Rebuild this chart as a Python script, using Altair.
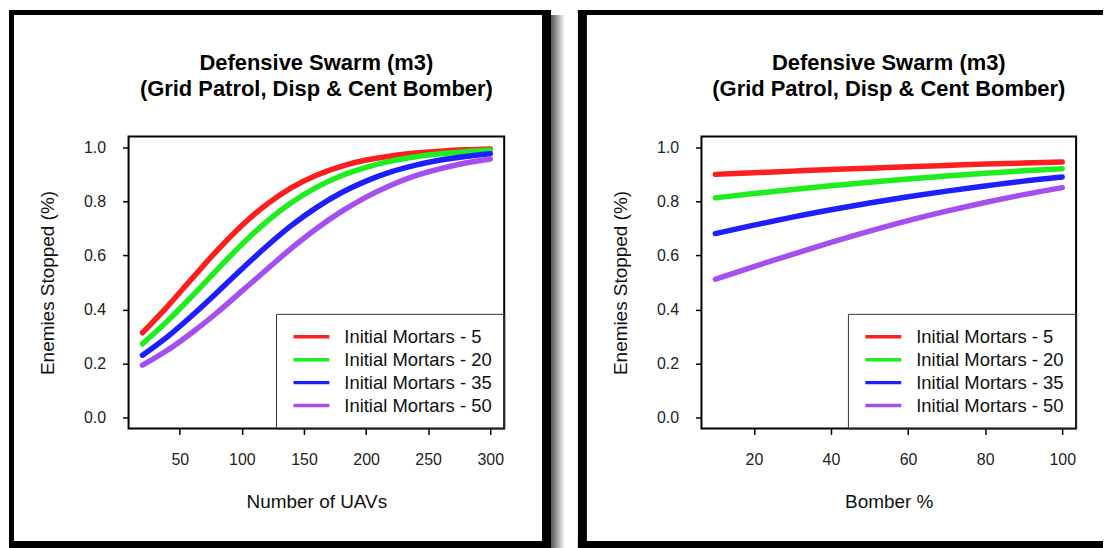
import altair as alt
import pandas as pd

FONT = "Liberation Sans"

series_names = ["Initial Mortars - 5", "Initial Mortars - 20",
                "Initial Mortars - 35", "Initial Mortars - 50"]
series_colors = ["#ff1e1e", "#1eee1e", "#1e1eff", "#a64ff0"]

# Left panel: Number of UAVs
uav_x = [20, 40, 60, 80, 100, 120, 140, 160, 180, 200, 220, 240, 260, 280, 300]
uav_m5 = [0.314, 0.411, 0.515, 0.618, 0.711, 0.789, 0.851, 0.897, 0.930, 0.953,
          0.968, 0.979, 0.986, 0.991, 0.994]
uav_m20 = [0.273, 0.357, 0.450, 0.547, 0.641, 0.725, 0.796, 0.852, 0.895, 0.926,
           0.949, 0.965, 0.976, 0.984, 0.989]
uav_m35 = [0.231, 0.299, 0.378, 0.463, 0.550, 0.634, 0.711, 0.777, 0.832, 0.875,
           0.909, 0.934, 0.953, 0.966, 0.976]
uav_m50 = [0.194, 0.249, 0.315, 0.388, 0.468, 0.548, 0.627, 0.699, 0.762, 0.816,
           0.860, 0.895, 0.921, 0.942, 0.957]

# Right panel: Bomber %
bomber_x = [10, 20, 30, 40, 50, 60, 70, 80, 90, 100]
bomber_m5 = [0.900, 0.906, 0.912, 0.918, 0.923, 0.928, 0.933, 0.938, 0.942, 0.946]
bomber_m20 = [0.813, 0.829, 0.844, 0.858, 0.871, 0.883, 0.894, 0.904, 0.913, 0.921]
bomber_m35 = [0.681, 0.712, 0.742, 0.769, 0.794, 0.817, 0.838, 0.857, 0.875, 0.890]
bomber_m50 = [0.512, 0.559, 0.604, 0.648, 0.690, 0.729, 0.764, 0.796, 0.825, 0.851]

y_ticks = [0.0, 0.2, 0.4, 0.6, 0.8, 1.0]
uav_ticks = [50, 100, 150, 200, 250, 300]
bomber_ticks = [20, 40, 60, 80, 100]

title_line1 = "Defensive Swarm (m3)"
title_line2 = "(Grid Patrol, Disp & Cent Bomber)"
y_title = "Enemies Stopped (%)"


def long_df(xs, cols):
    rows = []
    for name, ys in zip(series_names, cols):
        for xv, yv in zip(xs, ys):
            rows.append({"x": xv, "y": yv, "series": name})
    return pd.DataFrame(rows)


uav_df = long_df(uav_x, [uav_m5, uav_m20, uav_m35, uav_m50])
bomber_df = long_df(bomber_x, [bomber_m5, bomber_m20, bomber_m35, bomber_m50])

one = alt.Data(values=[{}])


def rect(x1, x2, y1, y2, fill="black"):
    return alt.Chart(one).mark_rect(fill=fill, strokeWidth=0).encode(
        x=alt.value(x1), x2=alt.value(x2), y=alt.value(y1), y2=alt.value(y2))


def panel(df, xs, x_title, ticks, W, H, frame, shadow, legend_x):
    span = max(xs) - min(xs)
    xdom = [min(xs) - 0.04 * span, max(xs) + 0.04 * span]
    left, right, top, bottom = frame
    layers = [
        rect(left, left + 5, top, bottom),
        rect(left, right, top, top + 5),
        rect(left, right, bottom - 7, bottom),
    ]
    if shadow:
        layers.append(rect(right - 9, right, top, bottom))
        layers.append(
            alt.Chart(one).mark_rect(
                strokeWidth=0,
                fill=alt.LinearGradient(
                    gradient="linear",
                    stops=[alt.GradientStop(color="#555555", offset=0),
                           alt.GradientStop(color="#ffffff", offset=1)],
                    x1=0, x2=1, y1=0, y2=0)
            ).encode(x=alt.value(right), x2=alt.value(right + 14),
                     y=alt.value(top + 5), y2=alt.value(bottom))
        )
    else:
        layers[0] = rect(left, left + 9, top, bottom)
    layers.append(
        alt.Chart(one).mark_text(text=title_line1, font=FONT, fontSize=22,
                                 fontWeight="bold", align="center",
                                 baseline="alphabetic", color="black")
        .encode(x=alt.value(W / 2), y=alt.value(-67)))
    layers.append(
        alt.Chart(one).mark_text(text=title_line2, font=FONT, fontSize=22,
                                 fontWeight="bold", align="center",
                                 baseline="alphabetic", color="black")
        .encode(x=alt.value(W / 2), y=alt.value(-41)))
    lines = alt.Chart(df).mark_line(
        strokeWidth=5.5, strokeCap="round", strokeJoin="round",
        interpolate="monotone"
    ).encode(
        x=alt.X("x:Q", scale=alt.Scale(domain=xdom, nice=False, zero=False),
                axis=alt.Axis(values=ticks, title=x_title)),
        y=alt.Y("y:Q", scale=alt.Scale(domain=[-0.04, 1.04], nice=False, zero=False),
                axis=alt.Axis(values=y_ticks, format=".1f", title=y_title)),
        color=alt.Color(
            "series:N",
            scale=alt.Scale(domain=series_names, range=series_colors),
            sort=series_names,
            legend=alt.Legend(
                title=None, orient="none", legendX=legend_x, legendY=178,
                symbolType="stroke", symbolSize=1296, symbolStrokeWidth=3.5,
                symbolOffset=4, labelOffset=13, labelFont=FONT,
                labelFontSize=18.5, labelColor="#111111", labelLimit=400,
                padding=11.5, clipHeight=23, rowPadding=0,
                strokeColor="#333333"),
        ),
    )
    layers.append(lines)
    return alt.layer(*layers).properties(width=W, height=H)


left_chart = panel(uav_df, uav_x, "Number of UAVs", uav_ticks, 377, 293,
                   (-120, 424, -127, 413), True, 148)
right_chart = panel(bomber_df, bomber_x, "Bomber %", bomber_ticks, 376, 293,
                    (-124, 403, -127, 413), False, 147)

chart = alt.hconcat(left_chart, right_chart, spacing=11, padding=0,
                    background="white").resolve_scale(
    x="independent", y="independent", color="independent"
).resolve_legend(color="independent").configure_view(
    stroke="black", strokeWidth=2
).configure_axis(
    domain=False, grid=False, ticks=True, tickColor="black", tickSize=6,
    tickWidth=1.5, labelFont=FONT, labelFontSize=16, labelColor="#222222",
    labelPadding=17, titleFont=FONT, titleFontSize=19, titleFontWeight="normal",
    titleColor="#111111"
).configure_axisX(titlePadding=25).configure_axisY(titlePadding=26)

chart.save("out.html", embed_options={"renderer": "svg", "actions": False})
